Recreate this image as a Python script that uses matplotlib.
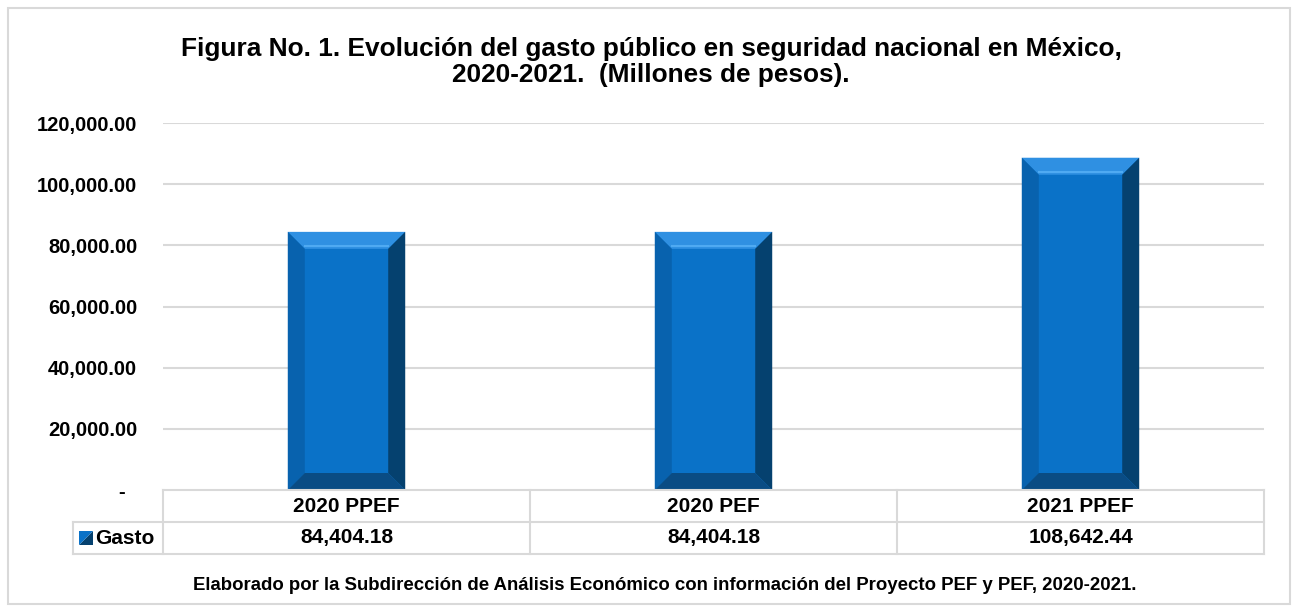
import numpy as np
import matplotlib.pyplot as plt
from matplotlib.patches import Polygon, Rectangle

plt.rcParams['font.family'] = ['Liberation Sans', 'DejaVu Sans']
plt.rcParams['font.weight'] = 'bold'

categorias = ['2020 PPEF', '2020 PEF', '2021 PPEF']
gasto = [84404.18, 84404.18, 108642.44]
serie = 'Gasto'
titulo = ('Figura No. 1. Evolución del gasto público en seguridad nacional en México,\n'
          '2020-2021.  (Millones de pesos).')
nota = 'Elaborado por la Subdirección de Análisis Económico con información del Proyecto PEF y PEF, 2020-2021.'

W, H = 1298, 608
fig = plt.figure(figsize=(W / 100, H / 100), dpi=100)
fig.patch.set_facecolor('white')

# marco exterior
fig.add_artist(Rectangle((8 / W, 4 / H), 1282 / W, 596 / H, transform=fig.transFigure,
                         fill=False, edgecolor='#D9D9D9', lw=1.5))

ax = fig.add_axes([163 / W, (H - 490) / H, 1101 / W, 367 / H])
x = np.arange(len(categorias))
ax.set_xlim(-0.5, len(categorias) - 0.5)
ax.set_ylim(0, 120000)
for s in ax.spines.values():
    s.set_visible(False)
ax.set_xticks([])
yt = np.arange(0, 120001, 20000)
ax.set_yticks(yt)
ax.set_yticklabels(['-  '] + [f'{v:,.2f}' for v in yt[1:]], fontsize=14.5, fontweight='bold')
ax.tick_params(axis='y', length=0, pad=18.5)
for v in yt[1:]:
    ax.axhline(v, color='#D9D9D9', lw=1.5, zorder=0)

ancho = 0.32
main_c = '#0A72C8'
bars = ax.bar(x, gasto, width=ancho, color=main_c, zorder=2)

# bisel de las barras
fig.canvas.draw()
px_x = ax.transData.transform((1, 0))[0] - ax.transData.transform((0, 0))[0]
px_y = ax.transData.transform((0, 1))[1] - ax.transData.transform((0, 0))[1]
bx = 17 / px_x
by = 17 / px_y
for b in bars:
    x0, x1 = b.get_x(), b.get_x() + b.get_width()
    y0, y1 = 0, b.get_height()
    top = [(x0, y1), (x1, y1), (x1 - bx, y1 - by), (x0 + bx, y1 - by)]
    left = [(x0, y0), (x0, y1), (x0 + bx, y1 - by), (x0 + bx, y0 + by)]
    right = [(x1, y0), (x1, y1), (x1 - bx, y1 - by), (x1 - bx, y0 + by)]
    bottom = [(x0, y0), (x1, y0), (x1 - bx, y0 + by), (x0 + bx, y0 + by)]
    for pts, c in [(top, '#2F90E2'), (left, '#0862AE'), (right, '#05416F'), (bottom, '#0A4C84')]:
        ax.add_patch(Polygon(pts, closed=True, facecolor=c, edgecolor='none', zorder=3))
    ax.plot([x0 + bx, x1 - bx], [y1 - by * 0.85, y1 - by * 0.85], color='#4FAAF2', lw=1.5, zorder=4)

# tabla de datos
gris = '#D9D9D9'
fila = 32 / 367
gx = -90 / 1101
lin = dict(color=gris, lw=1.5, transform=ax.transAxes, clip_on=False, zorder=5)
ax.plot([0, 1], [0, 0], **lin)
ax.plot([gx, 1], [-fila, -fila], **lin)
ax.plot([gx, 1], [-2 * fila, -2 * fila], **lin)
ax.plot([gx, gx], [-fila, -2 * fila], **lin)
for k in range(len(categorias) + 1):
    xa = k / len(categorias)
    ax.plot([xa, xa], [0, -2 * fila], **lin)
for k, (c, v) in enumerate(zip(categorias, gasto)):
    xa = (k + 0.5) / len(categorias)
    ax.text(xa, -fila / 2, c, transform=ax.transAxes, ha='center', va='center',
            fontsize=15, fontweight='bold')
    ax.text(xa, -1.5 * fila, f'{v:,.2f}', transform=ax.transAxes, ha='center', va='center',
            fontsize=15, fontweight='bold')
# clave de la serie
kx0, kx1 = -84 / 1101, -70 / 1101
ky0, ky1 = -1.5 * fila - 7 / 367, -1.5 * fila + 7 / 367
ax.add_patch(Polygon([(kx0, ky0), (kx1, ky0), (kx1, ky1)], transform=ax.transAxes,
                     facecolor='#05416F', edgecolor='none', clip_on=False))
ax.add_patch(Polygon([(kx0, ky0), (kx0, ky1), (kx1, ky1)], transform=ax.transAxes,
                     facecolor='#0A72C8', edgecolor='none', clip_on=False))
ax.text(-68 / 1101, -1.5 * fila, serie, transform=ax.transAxes, ha='left', va='center',
        fontsize=15, fontweight='bold')

fig.text(651 / W, 1 - 62 / H, titulo, ha='center', va='center', fontsize=18.9,
         fontweight='bold', linespacing=1.12)
fig.text(665 / W, 1 - 585 / H, nota, ha='center', va='center', fontsize=13.4, fontweight='bold')

fig.savefig('out.png', dpi=100)
